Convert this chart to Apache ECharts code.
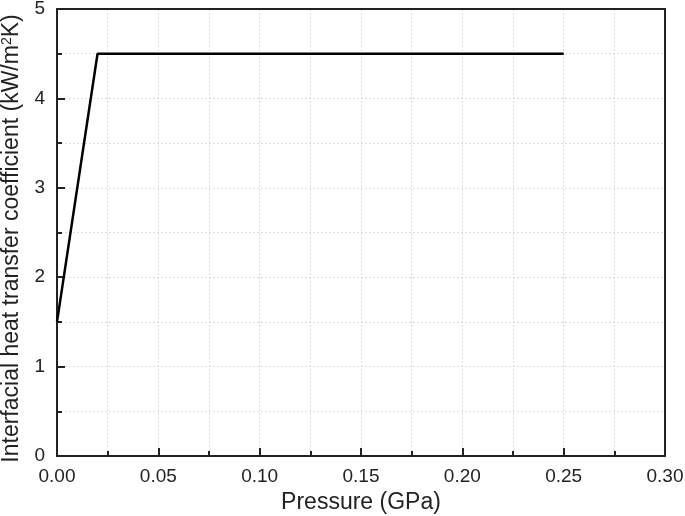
<!DOCTYPE html>
<html><head><meta charset="utf-8">
<script src="https://cdn.jsdelivr.net/npm/echarts@6/dist/echarts.min.js"></script>
<style>html,body{margin:0;padding:0;background:#fff}#c{width:685px;height:516px}</style>
</head><body><div id="c"></div>
<script>
const pressure = [0, 0.02, 0.25];
const htc = [1.5, 4.5, 4.5];
const xTitle = 'Pressure (GPa)';
const yTitle = 'Interfacial heat transfer coefficient (kW/m{sup|2}K)';
const font = 'Liberation Sans, Arial, sans-serif';
const chart = echarts.init(document.getElementById('c'), null, {renderer:'canvas'});
const lineCol = '#222';
function mainAxis(extra){
  return Object.assign({
    type:'value',
    axisLine:{show:true,onZero:false,lineStyle:{color:lineCol,width:2}},
    axisTick:{show:true,inside:true,length:8,lineStyle:{color:lineCol,width:2}},
    minorTick:{show:true,splitNumber:2,length:5,lineStyle:{color:lineCol,width:2}},
    splitLine:{show:true,lineStyle:{color:'#dcdcdc',type:[2,2],width:1}},
    minorSplitLine:{show:true,lineStyle:{color:'#dcdcdc',type:[2,2],width:1}},
    nameLocation:'middle'
  }, extra);
}
function frameAxis(extra){
  return Object.assign({
    type:'value',
    axisLine:{show:true,onZero:false,lineStyle:{color:lineCol,width:2}},
    axisTick:{show:false},axisLabel:{show:false},splitLine:{show:false}
  }, extra);
}
chart.setOption({
  animation:false,
  grid:{left:57,right:20,top:9,bottom:60,outerBoundsMode:'none',containLabel:false},
  xAxis:[
    mainAxis({min:0,max:0.3,interval:0.05,name:xTitle,nameGap:35,position:'bottom',
      nameTextStyle:{color:lineCol,fontFamily:font,fontSize:23},
      axisLabel:{color:lineCol,fontFamily:font,fontSize:19,margin:11,formatter:v=>v.toFixed(2)}}),
    frameAxis({min:0,max:0.3,position:'top'})
  ],
  yAxis:[
    mainAxis({min:0,max:5,interval:1,name:yTitle,nameGap:23,position:'left',
      nameTextStyle:{color:lineCol,fontFamily:font,fontSize:23,padding:[0,12,0,0],
        rich:{sup:{fontSize:14,fontFamily:font,color:lineCol,verticalAlign:'top',padding:[0,0,8,0]}}},
      axisLabel:{color:lineCol,fontFamily:font,fontSize:19,margin:12}}),
    frameAxis({min:0,max:5,position:'right'})
  ],
  series:[{type:'line',xAxisIndex:0,yAxisIndex:0,data:pressure.map((x,i)=>[x,htc[i]]),symbol:'none',lineStyle:{color:'#000',width:2.5}}]
});
</script></body></html>
